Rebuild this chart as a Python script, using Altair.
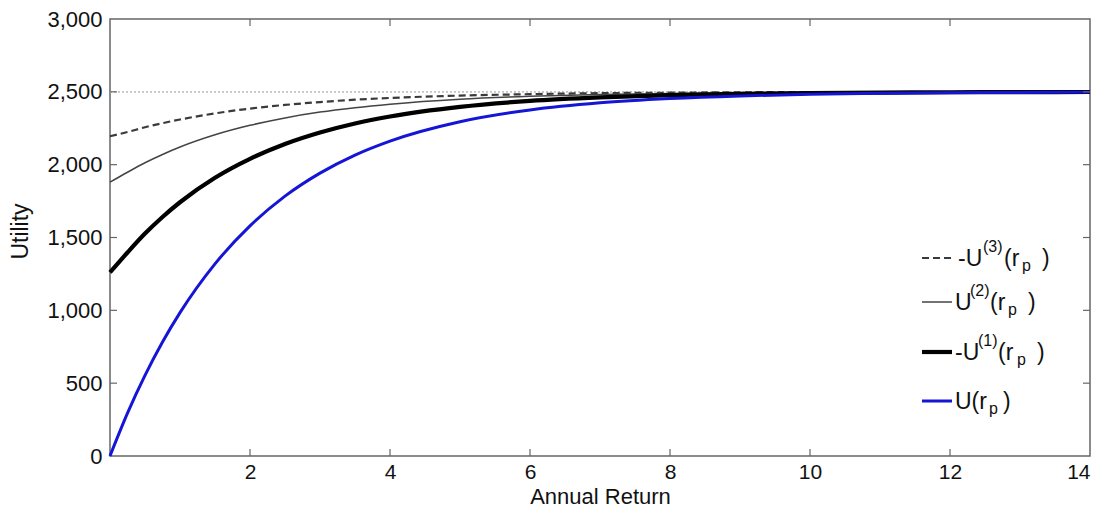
import altair as alt
import pandas as pd

# ---- data ----
returns = [0, 0.25, 0.5, 0.75, 1, 1.5, 2, 2.5, 3, 3.5, 4, 5, 6, 7, 8, 9, 10, 11, 12, 13, 14]
u_vals = [0, 294, 553, 782, 984, 1319, 1580, 1784, 1942, 2066, 2162, 2295, 2376, 2425,
          2454, 2472, 2483, 2490, 2494, 2496, 2498]
neg_u1_vals = [1260, 1397, 1527, 1641, 1742, 1910, 2040, 2142, 2221, 2283, 2331, 2397, 2438,
               2462, 2477, 2486, 2492, 2495, 2497, 2498, 2499]
u2_vals = [1880, 1948, 2013, 2070, 2121, 2205, 2270, 2321, 2361, 2391, 2415, 2449, 2469,
           2481, 2489, 2493, 2496, 2497, 2498, 2499, 2499]
neg_u3_vals = [2195, 2224, 2257, 2285, 2310, 2352, 2385, 2410, 2430, 2446, 2458, 2474, 2484,
               2491, 2494, 2497, 2498, 2499, 2499, 2500, 2500]
asymptote_r = [0, 14]
asymptote_u = [2500, 2500]
x_tick_values = [2, 4, 6, 8, 10, 12, 14]
x_inner_ticks = [2, 4, 6, 8, 10, 12]
y_tick_values = [0, 500, 1000, 1500, 2000, 2500, 3000]
y_inner_ticks = [500, 1000, 1500, 2000, 2500]

W, H = 980, 437
FONT = "Liberation Sans"
FRAME = "#666666"

xs = alt.Scale(domain=[0, 14], nice=False, zero=False)
ys = alt.Scale(domain=[0, 3000], nice=False)

x_axis = alt.Axis(values=x_tick_values, ticks=False, tickSize=0, domain=False, grid=False,
                  labelFont=FONT, labelFontSize=21, labelColor="#111", labelPadding=5,
                  title="Annual Return", titleFont=FONT, titleFontSize=22,
                  titleFontWeight="normal", titleColor="#111", titleY=47,
                  titleBaseline="alphabetic")
y_axis = alt.Axis(values=y_tick_values, ticks=False, tickSize=0, domain=False, grid=False,
                  format=",.0f", labelFont=FONT, labelFontSize=22, labelColor="#111",
                  labelPadding=8, title="Utility", titleFont=FONT, titleFontSize=23,
                  titleFontWeight="normal", titleColor="#111", titleX=-83, titleY=212,
                  titleBaseline="alphabetic")

X = alt.X("r:Q", scale=xs, axis=x_axis, title="Annual Return")
Y = alt.Y("u:Q", scale=ys, axis=y_axis, title="Utility")

curves = pd.DataFrame({
    "r": returns * 4,
    "u": u_vals + neg_u1_vals + u2_vals + neg_u3_vals,
    "s": ["U"] * len(returns) + ["nU1"] * len(returns) + ["U2"] * len(returns)
         + ["nU3"] * len(returns),
})
asym = pd.DataFrame({"r": asymptote_r, "u": asymptote_u})

asym_line = alt.Chart(asym).mark_line(color="#c4c4c4", strokeWidth=1.6,
                                      strokeDash=[2, 2]).encode(x=X, y=Y)


def curve(name, **style):
    return alt.Chart(curves).transform_filter(alt.datum.s == name).mark_line(
        interpolate="monotone", **style).encode(x=X, y=Y)


STYLE3 = dict(color="#3a3a3a", strokeWidth=2.2, strokeDash=[7, 4])
STYLE2 = dict(color="#444444", strokeWidth=1.5)
STYLE1 = dict(color="#000000", strokeWidth=4.2)
STYLE0 = dict(color="#1515d6", strokeWidth=3)

l3 = curve("nU3", **STYLE3)
l2 = curve("U2", **STYLE2)
l1 = curve("nU1", **STYLE1)
l0 = curve("U", **STYLE0)

# inward ticks (MATLAB style box)
xt = pd.DataFrame({"r": x_inner_ticks})
yt = pd.DataFrame({"u": y_inner_ticks})
tick_style = dict(color=FRAME, strokeWidth=1.2)
tick_bottom = alt.Chart(xt).mark_rule(**tick_style).encode(
    x=X, y=alt.value(H), y2=alt.value(H - 7))
tick_top = alt.Chart(xt).mark_rule(**tick_style).encode(
    x=X, y=alt.value(0), y2=alt.value(7))
tick_left = alt.Chart(yt).mark_rule(**tick_style).encode(
    y=Y, x=alt.value(0), x2=alt.value(7))
tick_right = alt.Chart(yt).mark_rule(**tick_style).encode(
    y=Y, x=alt.value(W), x2=alt.value(W - 7))

# legend (drawn by hand to allow super/subscripts)
leg_x0, leg_x1 = 812, 842
leg_rows = [239, 283, 333, 382]
leg_styles = [STYLE3, STYLE2, STYLE1, STYLE0]
# (text, x, role) ; role: 0 base, 1 superscript, -1 subscript
leg_texts = [
    [("-U", 848, 0), ("(3)", 873, 1), ("(r", 894, 0), ("p", 912, -1), (")", 932, 0)],
    [("U", 845, 0), ("(2)", 860, 1), ("(r", 880, 0), ("p", 898, -1), (")", 918, 0)],
    [("-U", 845, 0), ("(1)", 868, 1), ("(r", 888, 0), ("p", 907, -1), (")", 927, 0)],
    [("U(r", 845, 0), ("p", 879, -1), (")", 893, 0)],
]

dummy = alt.Chart(pd.DataFrame({"a": [0]}))
legend_layers = []
for row_y, style, pieces in zip(leg_rows, leg_styles, leg_texts):
    legend_layers.append(dummy.mark_rule(**style).encode(
        x=alt.value(leg_x0), x2=alt.value(leg_x1), y=alt.value(row_y)))
    base_y = row_y + 8
    for txt, px, role in pieces:
        if role == 0:
            size, py = 23, base_y
        elif role == 1:
            size, py = 16, base_y - 14
        else:
            size, py = 16, base_y + 5
        legend_layers.append(dummy.mark_text(
            text=txt, font=FONT, fontSize=size, align="left", baseline="alphabetic",
            color="#111").encode(x=alt.value(px), y=alt.value(py)))

chart = alt.layer(
    asym_line, l3, l2, l1, l0,
    tick_bottom, tick_top, tick_left, tick_right,
    *legend_layers,
).properties(
    width=W, height=H,
    autosize=alt.AutoSizeParams(type="none"),
    padding={"left": 102, "top": 11, "right": 10, "bottom": 52},
    background="white",
).configure_view(stroke=FRAME, strokeWidth=1.5)

chart.save("out.html", embed_options={"renderer": "svg", "actions": False})
